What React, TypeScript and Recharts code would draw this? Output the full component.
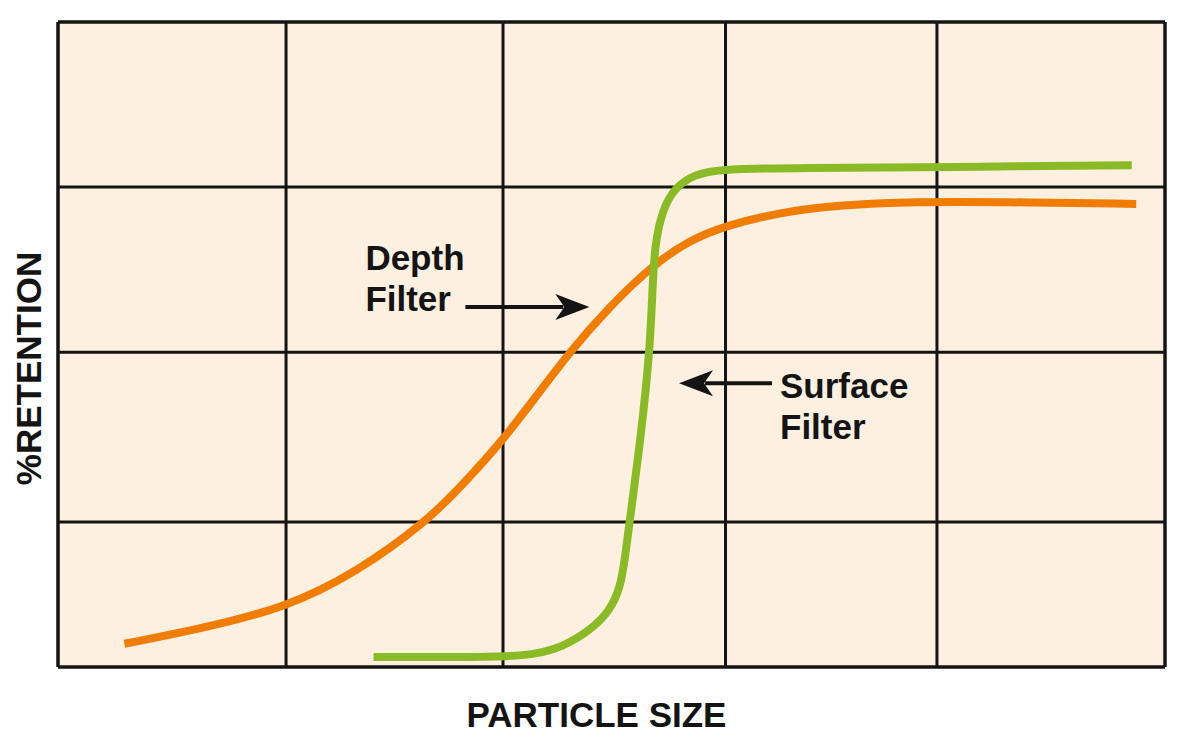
import { LineChart, Line, XAxis, YAxis, CartesianGrid, ReferenceLine } from "recharts";

// particle size (0-100 across the plot) vs % retention (0-100 bottom to top)
const depthFilter = [
  { x: 6.0, y: 3.6 },
  { x: 12.8, y: 5.9 },
  { x: 20.6, y: 9.2 },
  { x: 26.9, y: 14.6 },
  { x: 33.3, y: 22.5 },
  { x: 36.8, y: 28.7 },
  { x: 40.2, y: 35.2 },
  { x: 43.3, y: 42.2 },
  { x: 46.3, y: 49.0 },
  { x: 49.9, y: 56.0 },
  { x: 53.7, y: 62.3 },
  { x: 57.1, y: 66.2 },
  { x: 60.3, y: 68.4 },
  { x: 65.2, y: 70.5 },
  { x: 70.6, y: 71.6 },
  { x: 76.1, y: 72.1 },
  { x: 85.1, y: 72.1 },
  { x: 97.4, y: 71.8 },
];

const surfaceFilter = [
  { x: 28.5, y: 1.55 },
  { x: 35.4, y: 1.55 },
  { x: 42.6, y: 1.6 },
  { x: 45.6, y: 3.1 },
  { x: 48.1, y: 5.7 },
  { x: 49.9, y: 8.8 },
  { x: 50.8, y: 12.4 },
  { x: 51.2, y: 16.6 },
  { x: 51.9, y: 25.9 },
  { x: 52.6, y: 35.2 },
  { x: 53.1, y: 42.9 },
  { x: 53.5, y: 50.7 },
  { x: 53.7, y: 58.4 },
  { x: 53.9, y: 65.4 },
  { x: 54.6, y: 70.9 },
  { x: 55.7, y: 74.3 },
  { x: 57.5, y: 76.4 },
  { x: 59.8, y: 77.2 },
  { x: 67.0, y: 77.4 },
  { x: 80.6, y: 77.5 },
  { x: 97.0, y: 77.8 },
];

const xTicks = [0, 20.6, 40.2, 60.3, 79.4, 100];
const yTicks = [0, 22.5, 48.8, 74.4, 100];

const depthArrow = [{ x: 36.8, y: 55.8 }, { x: 48.0, y: 55.8 }];
const surfaceArrow = [{ x: 64.5, y: 44.0 }, { x: 56.1, y: 44.0 }];

const FONT = "'Liberation Sans', Arial, Helvetica, sans-serif";
const INK = "#141414";

function arrowShape(lines: string[], tx: number, ty: number) {
  return (p: any) => {
    const { x1, y1, x2 } = p;
    const d = x2 > x1 ? 1 : -1;
    const head = `${x2},${y1} ${x2 - d * 34},${y1 - 13} ${x2 - d * 25},${y1} ${x2 - d * 34},${y1 + 13}`;
    return (
      <g>
        <line x1={x1} y1={y1} x2={x2 - d * 26} y2={y1} stroke={INK} strokeWidth={4} />
        <polygon points={head} fill={INK} />
        {lines.map((t, i) => (
          <text key={i} x={x1 + tx} y={y1 + ty + i * 41} fill={INK} fontFamily={FONT} fontWeight="bold" fontSize={35}>
            {t}
          </text>
        ))}
      </g>
    );
  };
}

export default function App() {
  return (
    <div style={{ position: "absolute", left: 0, top: 0, background: "#fff" }}>
      <LineChart width={1200} height={749} margin={{ top: 22, right: 35, left: 0, bottom: 0 }}>
        <CartesianGrid fill="#fdf0e0" stroke={INK} strokeWidth={3} strokeOpacity={1} />
        <XAxis
          type="number"
          dataKey="x"
          domain={[0, 100]}
          ticks={xTicks}
          interval={0}
          tick={false}
          tickLine={false}
          axisLine={false}
          height={82}
          label={{
            content: (lp: any) => {
              const vb = lp.viewBox;
              return (
                <text x={vb.x + vb.width / 2 - 15} y={vb.y + 60} textAnchor="middle" fill={INK} fontFamily={FONT} fontWeight="bold" fontSize={35}>
                  PARTICLE SIZE
                </text>
              );
            },
          }}
        />
        <YAxis
          type="number"
          dataKey="y"
          domain={[0, 100]}
          ticks={yTicks}
          interval={0}
          tick={false}
          tickLine={false}
          axisLine={false}
          width={58}
          label={{
            content: (lp: any) => {
              const vb = lp.viewBox;
              const cx = 28;
              const cy = vb.y + vb.height / 2 + 24;
              return (
                <text x={cx} y={cy} transform={`rotate(-90, ${cx}, ${cy})`} textAnchor="middle" dominantBaseline="central" fill={INK} fontFamily={FONT} fontWeight="bold" fontSize={35}>
                  %RETENTION
                </text>
              );
            },
          }}
        />
        {xTicks.map((t) => (
          <ReferenceLine key={"x" + t} x={t} stroke={INK} strokeWidth={3} />
        ))}
        {yTicks.map((t) => (
          <ReferenceLine key={"y" + t} y={t} stroke={INK} strokeWidth={3} />
        ))}
        <Line data={depthFilter} dataKey="y" type="basis" stroke="#f07c00" strokeWidth={8} dot={false} activeDot={false} isAnimationActive={false} />
        <Line data={surfaceFilter} dataKey="y" type="basis" stroke="#8aba25" strokeWidth={8} dot={false} activeDot={false} isAnimationActive={false} />
        <ReferenceLine segment={depthArrow} shape={arrowShape(["Depth", "Filter"], -100, -37)} />
        <ReferenceLine segment={surfaceArrow} shape={arrowShape(["Surface", "Filter"], 8, 15)} />
      </LineChart>
    </div>
  );
}
